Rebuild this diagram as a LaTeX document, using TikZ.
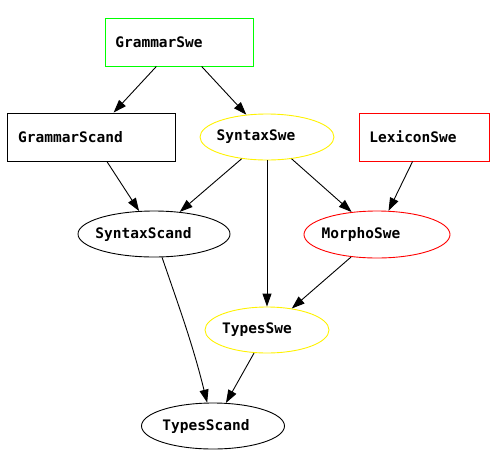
\documentclass[tikz,border=0pt]{standalone}
\usepackage{fontspec}
\setmonofont{DejaVu Sans Mono}
\usetikzlibrary{shapes.geometric,arrows.meta}
\def\offtext#1#2{\hspace*{#1}#2}

\begin{document}
\begin{tikzpicture}[x=1pt,y=1pt,
  every node/.style={font=\ttfamily\bfseries\fontsize{14.5}{16}\selectfont, inner sep=0pt, line width=0.9pt},
  modbox/.style={draw, rectangle, minimum width=#1, minimum height=48pt},
  modell/.style={draw, ellipse, minimum width=#1, minimum height=46pt},
  dep/.style={-{Triangle[length=13pt,width=9pt]}, line width=0.9pt}]
  \useasboundingbox (0,0) rectangle (496,-467);
  % modules
  \node[modbox=148pt, green] (GrammarSwe) at (179,-42) {\offtext{-40pt}{\color{black}GrammarSwe}};
  \node[modbox=168pt] (GrammarScand) at (91,-137) {\offtext{-41pt}{GrammarScand}};
  \node[modell=134pt, yellow] (SyntaxSwe) at (267,-137) {\offtext{-22pt}{\color{black}SyntaxSwe}};
  \node[modbox=130pt, red] (LexiconSwe) at (424.5,-137) {\offtext{-23pt}{\color{black}LexiconSwe}};
  \node[modell=152pt] (SyntaxScand) at (154,-234) {\offtext{-21pt}{SyntaxScand}};
  \node[modell=146pt, red, minimum height=47pt] (MorphoSwe) at (377,-234.5) {\offtext{-32pt}{\color{black}MorphoSwe}};
  \node[modell=124pt, yellow] (TypesSwe) at (267,-330) {\offtext{-20pt}{\color{black}TypesSwe}};
  \node[modell=143pt] (TypesScand) at (213,-426) {\offtext{-14pt}{TypesScand}};
  % dependencies
  \draw[dep] (GrammarSwe) -- (GrammarScand);
  \draw[dep] (GrammarSwe) -- (SyntaxSwe);
  \draw[dep] (GrammarScand) -- (SyntaxScand);
  \draw[dep] (SyntaxSwe) -- (SyntaxScand);
  \draw[dep] (SyntaxSwe) -- (TypesSwe);
  \draw[dep] (SyntaxSwe) -- (MorphoSwe);
  \draw[dep] (LexiconSwe) -- (MorphoSwe);
  \draw[dep] (MorphoSwe) -- (TypesSwe);
  \draw[dep] (SyntaxScand) to[out=-71,in=104] (TypesScand);
  \draw[dep] (TypesSwe) -- (TypesScand);
\end{tikzpicture}
\end{document}
